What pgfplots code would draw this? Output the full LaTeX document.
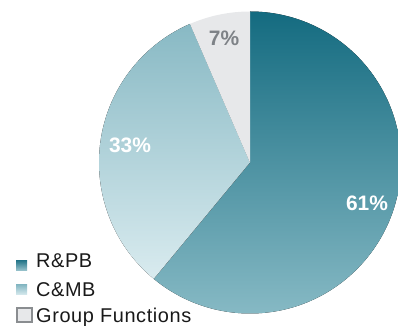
\documentclass[border=0pt]{standalone}
\usepackage{pgfplots}
\pgfplotsset{compat=1.18}
\usepackage{fontspec}
\setmainfont{Liberation Sans}
\newfontfamily\legfont[LetterSpace=3]{Liberation Sans}
\definecolor{rpbTop}{HTML}{146B80}
\definecolor{rpbBot}{HTML}{86B9C4}
\definecolor{cmbTop}{HTML}{88B9C4}
\definecolor{cmbBot}{HTML}{D9EBEF}
\definecolor{gfFill}{HTML}{E7E8EA}
\definecolor{gfText}{HTML}{7E8287}
\definecolor{gfBorder}{HTML}{8A8D90}
\begin{document}
\begin{tikzpicture}
\begin{axis}[width=398bp,height=326bp,scale only axis,hide axis,
  xmin=0,xmax=398,ymin=0,ymax=326,clip=true]
% shares in percent of the circle: R&PB 61, C&MB 32.5, Group Functions 6.5
% R&PB: from 90 deg clockwise 61*3.6 = 219.6 deg
\fill[top color=rpbTop,bottom color=rpbBot] (axis cs:250,163.5) -- (axis cs:250,314.5)
  arc[start angle=90,end angle=-129.6,radius=151bp] -- cycle;
% C&MB: 32.5*3.6 = 117 deg
\fill[top color=cmbTop,bottom color=cmbBot] (axis cs:250,163.5) -- ++(-129.6:151bp)
  arc[start angle=-129.6,end angle=-246.6,radius=151bp] -- cycle;
% Group Functions: 6.5*3.6 = 23.4 deg
\fill[gfFill] (axis cs:250,163.5) -- ++(113.4:151bp)
  arc[start angle=113.4,end angle=90,radius=151bp] -- cycle;
% percentage labels
\node[text=white,font=\fontsize{21}{24}\selectfont\bfseries] at (axis cs:367,123) {61\%};
\node[text=white,font=\fontsize{21}{24}\selectfont\bfseries] at (axis cs:130,181) {33\%};
\node[text=gfText,font=\fontsize{21}{24}\selectfont\bfseries] at (axis cs:224,288) {7\%};
% legend
\fill[top color=rpbTop!90!white,bottom color=rpbBot!80!white] (axis cs:16,55) rectangle (axis cs:27,65);
\fill[top color=cmbTop,bottom color=cmbBot] (axis cs:16,31) rectangle (axis cs:27,41);
\draw[gfBorder,line width=2bp,fill=gfFill] (axis cs:17,4) rectangle (axis cs:32,18);
\node[anchor=base west,inner sep=0pt,text=black!90,font=\legfont\fontsize{20}{22}\selectfont] at (axis cs:36,58) {R\&PB};
\node[anchor=base west,inner sep=0pt,text=black!90,font=\legfont\fontsize{20}{22}\selectfont] at (axis cs:36,30) {C\&MB};
\node[anchor=base west,inner sep=0pt,text=black!90,font=\legfont\fontsize{20}{22}\selectfont] at (axis cs:36,4) {Group Functions};
\end{axis}
\pgfresetboundingbox
\path (0,0) rectangle (398bp,326bp);
\end{tikzpicture}
\end{document}
